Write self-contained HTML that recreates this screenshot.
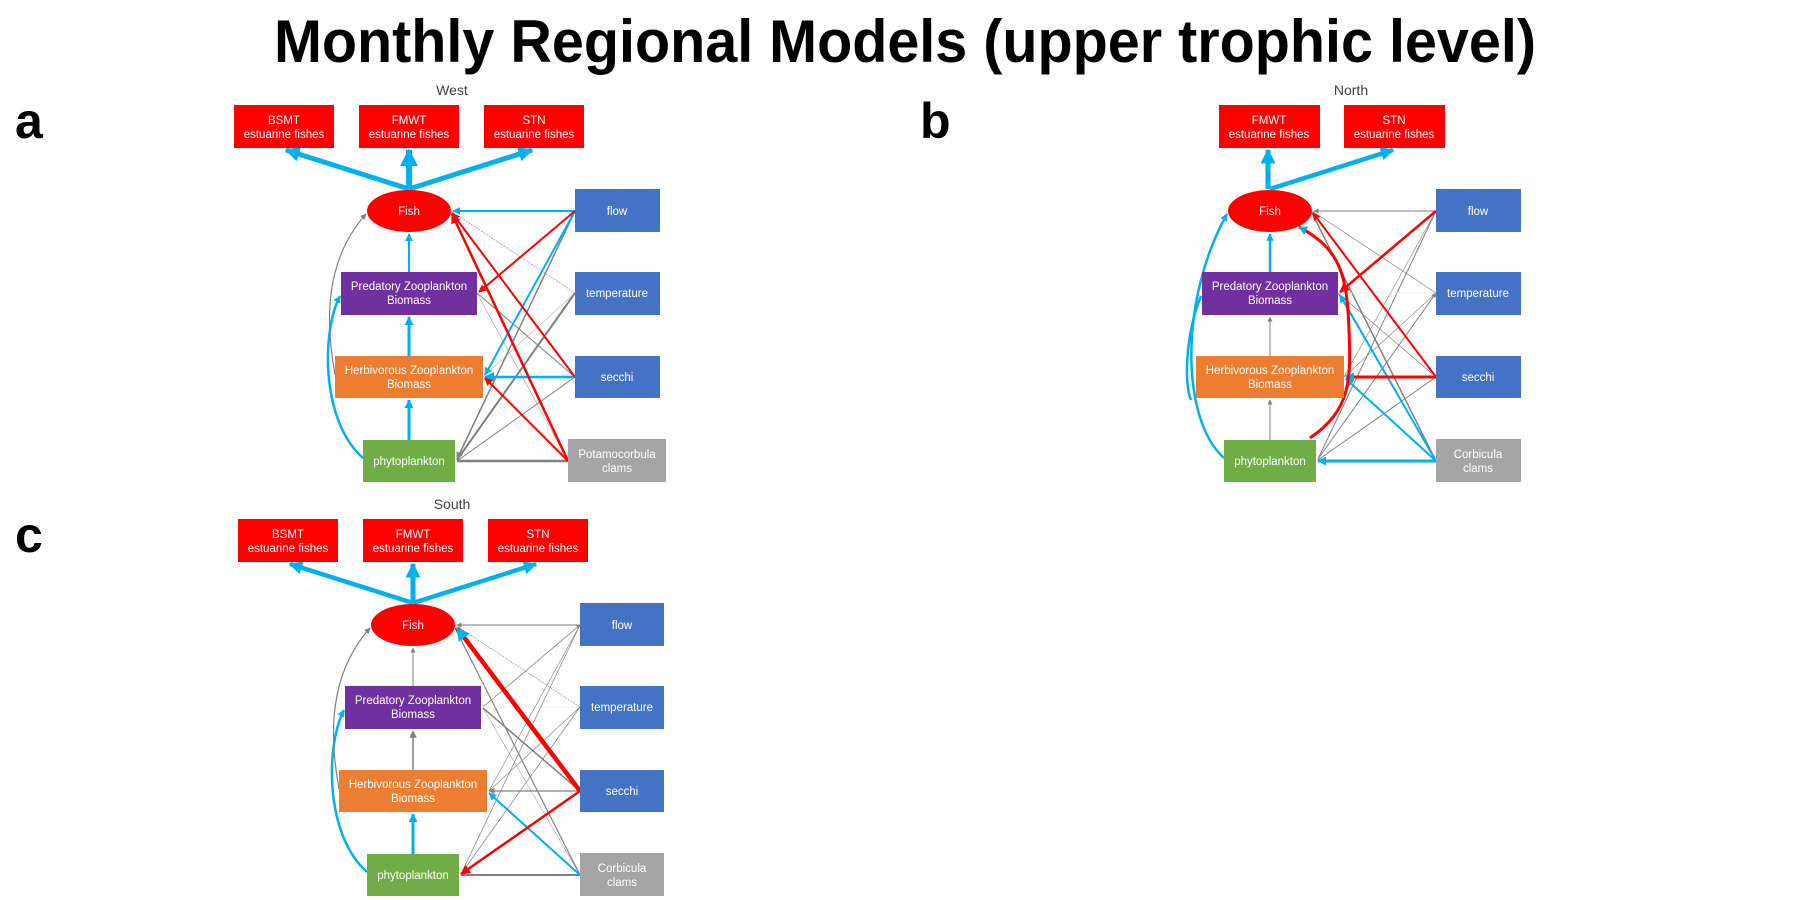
<!DOCTYPE html>
<html><head><meta charset="utf-8"><style>
html,body{margin:0;padding:0;background:#fff;width:1800px;height:900px;overflow:hidden}
svg{display:block}
.t{font-family:"Liberation Sans",sans-serif;font-size:11.5px;fill:#fff;text-anchor:middle}
</style></head><body>
<svg width="1800" height="900" viewBox="0 0 1800 900" xmlns="http://www.w3.org/2000/svg">
<defs>
<marker id="mb" viewBox="0 0 10 10" refX="9" refY="5" markerWidth="4" markerHeight="4" orient="auto" markerUnits="strokeWidth"><path d="M0,0L10,5L0,10z" fill="#00b0f0"/></marker>
<marker id="mr" viewBox="0 0 10 10" refX="9" refY="5" markerWidth="4" markerHeight="4" orient="auto" markerUnits="strokeWidth"><path d="M0,0L10,5L0,10z" fill="#ff0000"/></marker>
<marker id="mg" viewBox="0 0 10 10" refX="9" refY="5" markerWidth="5" markerHeight="5" orient="auto" markerUnits="strokeWidth"><path d="M0,0L10,5L0,10z" fill="#808080"/></marker>
<marker id="mB" viewBox="0 0 10 10" refX="9" refY="5" markerWidth="3" markerHeight="3" orient="auto" markerUnits="strokeWidth"><path d="M0,0L10,5L0,10z" fill="#00b0f0"/></marker>
</defs>
<text x="905" y="62" font-family="Liberation Sans,sans-serif" font-weight="bold" font-size="60" text-anchor="middle" textLength="1262" lengthAdjust="spacingAndGlyphs">Monthly Regional Models (upper trophic level)</text>
<text x="15" y="138" font-family="Liberation Sans,sans-serif" font-weight="bold" font-size="50">a</text>
<text x="920" y="138" font-family="Liberation Sans,sans-serif" font-weight="bold" font-size="50">b</text>
<text x="15" y="552" font-family="Liberation Sans,sans-serif" font-weight="bold" font-size="50">c</text>

<!-- Panel A -->
<g>
<text x="452" y="95" font-family="Liberation Sans,sans-serif" font-size="14" fill="#404040" text-anchor="middle">West</text>
<g fill="none">
<line x1="409" y1="189" x2="286" y2="150" stroke="#00b0f0" stroke-width="5" marker-end="url(#mB)"/>
<line x1="409" y1="189" x2="409" y2="150" stroke="#00b0f0" stroke-width="6" marker-end="url(#mB)"/>
<line x1="409" y1="189" x2="532" y2="150" stroke="#00b0f0" stroke-width="5" marker-end="url(#mB)"/>
<line x1="451" y1="211" x2="575" y2="293" stroke="#808080" stroke-width="0.6" stroke-dasharray="2,1"/>
<line x1="477" y1="293" x2="575" y2="377" stroke="#808080" stroke-width="1"/>
<line x1="477" y1="293" x2="568" y2="461" stroke="#808080" stroke-width="0.5"/>
<line x1="483" y1="377" x2="575" y2="293" stroke="#808080" stroke-width="0.5"/>
<line x1="575" y1="211" x2="457" y2="459" stroke="#808080" stroke-width="1.5" marker-end="url(#mg)"/>
<line x1="575" y1="293" x2="457" y2="460" stroke="#808080" stroke-width="2"/>
<line x1="575" y1="377" x2="457" y2="461" stroke="#808080" stroke-width="1"/>
<line x1="568" y1="461" x2="457" y2="461" stroke="#808080" stroke-width="2.5"/>
<line x1="575" y1="211" x2="453" y2="211" stroke="#00b0f0" stroke-width="2" marker-end="url(#mb)"/>
<line x1="575" y1="211" x2="485" y2="375" stroke="#00b0f0" stroke-width="2" marker-end="url(#mb)"/>
<line x1="575" y1="377" x2="485" y2="377" stroke="#00b0f0" stroke-width="2.5" marker-end="url(#mb)"/>
<line x1="409" y1="272" x2="409" y2="234" stroke="#00b0f0" stroke-width="2" marker-end="url(#mb)"/>
<line x1="409" y1="356" x2="409" y2="317" stroke="#00b0f0" stroke-width="3" marker-end="url(#mB)"/>
<line x1="409" y1="440" x2="409" y2="400" stroke="#00b0f0" stroke-width="3" marker-end="url(#mB)"/>
<path d="M363,458 C320,420 322,330 340,296" stroke="#00b0f0" stroke-width="2.5" marker-end="url(#mB)"/>
<path d="M335,375 C325,320 325,260 366,214" stroke="#808080" stroke-width="1.2" marker-end="url(#mg)"/>
<line x1="575" y1="211" x2="479" y2="292" stroke="#ff0000" stroke-width="2" marker-end="url(#mr)"/>
<line x1="575" y1="377" x2="452" y2="213" stroke="#ff0000" stroke-width="2" marker-end="url(#mr)"/>
<line x1="568" y1="461" x2="452" y2="214" stroke="#ff0000" stroke-width="2.5" marker-end="url(#mr)"/>
<line x1="568" y1="461" x2="485" y2="378" stroke="#ff0000" stroke-width="2" marker-end="url(#mr)"/>
</g>
<rect x="234" y="105" width="100" height="43" fill="#ff0000"/><text class="t" x="284" y="124">BSMT</text><text class="t" x="284" y="138">estuarine fishes</text>
<rect x="359" y="105" width="100" height="43" fill="#ff0000"/><text class="t" x="409" y="124">FMWT</text><text class="t" x="409" y="138">estuarine fishes</text>
<rect x="484" y="105" width="100" height="43" fill="#ff0000"/><text class="t" x="534" y="124">STN</text><text class="t" x="534" y="138">estuarine fishes</text>
<ellipse cx="409" cy="211" rx="42" ry="21" fill="#ff0000"/><text class="t" x="409" y="215">Fish</text>
<rect x="341" y="272" width="136" height="43" fill="#7030a0"/><text class="t" x="409" y="290">Predatory Zooplankton</text><text class="t" x="409" y="304">Biomass</text>
<rect x="335" y="356" width="148" height="42" fill="#ed7d31"/><text class="t" x="409" y="374">Herbivorous Zooplankton</text><text class="t" x="409" y="388">Biomass</text>
<rect x="363" y="440" width="92" height="42" fill="#70ad47"/><text class="t" x="409" y="465">phytoplankton</text>
<rect x="575" y="189" width="85" height="43" fill="#4472c4"/><text class="t" x="617" y="215">flow</text>
<rect x="575" y="272" width="85" height="43" fill="#4472c4"/><text class="t" x="617" y="297">temperature</text>
<rect x="575" y="356" width="85" height="42" fill="#4472c4"/><text class="t" x="617" y="381">secchi</text>
<rect x="568" y="439" width="98" height="43" fill="#a5a5a5"/><text class="t" x="617" y="458">Potamocorbula</text><text class="t" x="617" y="472">clams</text>
</g>

<!-- Panel B -->
<g transform="translate(861,0)">
<text x="490" y="95" font-family="Liberation Sans,sans-serif" font-size="14" fill="#404040" text-anchor="middle">North</text>
<g fill="none">
<line x1="407" y1="189" x2="407" y2="150" stroke="#00b0f0" stroke-width="5" marker-end="url(#mB)"/>
<line x1="409" y1="189" x2="532" y2="150" stroke="#00b0f0" stroke-width="4.5" marker-end="url(#mB)"/>
<line x1="575" y1="211" x2="453" y2="211" stroke="#808080" stroke-width="1" marker-end="url(#mg)"/>
<line x1="451" y1="211" x2="575" y2="293" stroke="#808080" stroke-width="0.7"/>
<line x1="451" y1="211" x2="575" y2="377" stroke="#808080" stroke-width="0.7"/>
<line x1="451" y1="213" x2="575" y2="461" stroke="#808080" stroke-width="1.5"/>
<line x1="477" y1="293" x2="575" y2="461" stroke="#808080" stroke-width="0.8"/>
<line x1="477" y1="293" x2="575" y2="377" stroke="#808080" stroke-width="0.7"/>
<line x1="483" y1="377" x2="575" y2="211" stroke="#808080" stroke-width="0.6"/>
<line x1="483" y1="377" x2="575" y2="293" stroke="#808080" stroke-width="0.6"/>
<line x1="457" y1="459" x2="575" y2="211" stroke="#808080" stroke-width="1"/>
<line x1="457" y1="459" x2="575" y2="293" stroke="#808080" stroke-width="1" marker-end="url(#mg)"/>
<line x1="457" y1="460" x2="575" y2="377" stroke="#808080" stroke-width="1"/>
<line x1="477" y1="293" x2="575" y2="293" stroke="#e0e0e0" stroke-width="0.6"/>
<line x1="409" y1="356" x2="409" y2="317" stroke="#808080" stroke-width="1" marker-end="url(#mg)"/>
<line x1="409" y1="440" x2="409" y2="400" stroke="#808080" stroke-width="1" marker-end="url(#mg)"/>
<line x1="409" y1="272" x2="409" y2="234" stroke="#00b0f0" stroke-width="2.5" marker-end="url(#mB)"/>
<line x1="575" y1="461" x2="457" y2="461" stroke="#00b0f0" stroke-width="3" marker-end="url(#mB)"/>
<line x1="575" y1="461" x2="485" y2="379" stroke="#00b0f0" stroke-width="2" marker-end="url(#mb)"/>
<line x1="575" y1="461" x2="479" y2="295" stroke="#00b0f0" stroke-width="2" marker-end="url(#mb)"/>
<path d="M363,458 C320,420 318,300 366,214" stroke="#00b0f0" stroke-width="2.5" marker-end="url(#mB)"/>
<path d="M340,296 C326,330 322,380 330,400" stroke="#00b0f0" stroke-width="2.5"/>
<line x1="575" y1="211" x2="479" y2="292" stroke="#ff0000" stroke-width="2.5" marker-end="url(#mr)"/>
<line x1="575" y1="377" x2="452" y2="213" stroke="#ff0000" stroke-width="2" marker-end="url(#mr)"/>
<line x1="575" y1="377" x2="485" y2="377" stroke="#ff0000" stroke-width="3" marker-end="url(#mB)"/>
<path d="M449,438 C490,410 490,380 488,330 C486,280 482,250 438,227" stroke="#ff0000" stroke-width="3" marker-end="url(#mB)"/>
</g>
<rect x="358" y="105" width="101" height="43" fill="#ff0000"/><text class="t" x="408" y="124">FMWT</text><text class="t" x="408" y="138">estuarine fishes</text>
<rect x="483" y="105" width="101" height="43" fill="#ff0000"/><text class="t" x="533" y="124">STN</text><text class="t" x="533" y="138">estuarine fishes</text>
<ellipse cx="409" cy="211" rx="42" ry="21" fill="#ff0000"/><text class="t" x="409" y="215">Fish</text>
<rect x="341" y="272" width="136" height="43" fill="#7030a0"/><text class="t" x="409" y="290">Predatory Zooplankton</text><text class="t" x="409" y="304">Biomass</text>
<rect x="335" y="356" width="148" height="42" fill="#ed7d31"/><text class="t" x="409" y="374">Herbivorous Zooplankton</text><text class="t" x="409" y="388">Biomass</text>
<rect x="363" y="440" width="92" height="42" fill="#70ad47"/><text class="t" x="409" y="465">phytoplankton</text>
<rect x="575" y="189" width="85" height="43" fill="#4472c4"/><text class="t" x="617" y="215">flow</text>
<rect x="575" y="272" width="85" height="43" fill="#4472c4"/><text class="t" x="617" y="297">temperature</text>
<rect x="575" y="356" width="85" height="42" fill="#4472c4"/><text class="t" x="617" y="381">secchi</text>
<rect x="575" y="439" width="85" height="43" fill="#a5a5a5"/><text class="t" x="617" y="458">Corbicula</text><text class="t" x="617" y="472">clams</text>
</g>

<!-- Panel C -->
<g transform="translate(4,414)">
<text x="448" y="95" font-family="Liberation Sans,sans-serif" font-size="14" fill="#404040" text-anchor="middle">South</text>
<g fill="none">
<line x1="409" y1="189" x2="286" y2="150" stroke="#00b0f0" stroke-width="4.5" marker-end="url(#mB)"/>
<line x1="409" y1="189" x2="409" y2="150" stroke="#00b0f0" stroke-width="5" marker-end="url(#mB)"/>
<line x1="409" y1="189" x2="532" y2="150" stroke="#00b0f0" stroke-width="4.5" marker-end="url(#mB)"/>
<line x1="576" y1="211" x2="453" y2="211" stroke="#808080" stroke-width="1" marker-end="url(#mg)"/>
<line x1="451" y1="211" x2="576" y2="293" stroke="#808080" stroke-width="0.6" stroke-dasharray="2,1"/>
<line x1="451" y1="214" x2="576" y2="461" stroke="#808080" stroke-width="1.2"/>
<line x1="479" y1="293" x2="576" y2="211" stroke="#808080" stroke-width="0.8" marker-end="url(#mg)"/>
<line x1="479" y1="294" x2="576" y2="377" stroke="#808080" stroke-width="1.5"/>
<line x1="479" y1="294" x2="576" y2="461" stroke="#808080" stroke-width="0.5"/>
<line x1="479" y1="293" x2="576" y2="293" stroke="#e0e0e0" stroke-width="0.6"/>
<line x1="576" y1="377" x2="485" y2="377" stroke="#808080" stroke-width="1.2" marker-end="url(#mg)"/>
<line x1="485" y1="377" x2="576" y2="211" stroke="#808080" stroke-width="0.6"/>
<line x1="485" y1="377" x2="576" y2="293" stroke="#808080" stroke-width="0.6"/>
<line x1="457" y1="460" x2="576" y2="211" stroke="#808080" stroke-width="0.7"/>
<line x1="457" y1="460" x2="576" y2="293" stroke="#808080" stroke-width="0.7"/>
<line x1="576" y1="461" x2="457" y2="461" stroke="#808080" stroke-width="2"/>
<line x1="409" y1="272" x2="409" y2="234" stroke="#808080" stroke-width="1" marker-end="url(#mg)"/>
<line x1="409" y1="356" x2="409" y2="317" stroke="#808080" stroke-width="1.5" marker-end="url(#mg)"/>
<line x1="409" y1="440" x2="409" y2="400" stroke="#00b0f0" stroke-width="3" marker-end="url(#mB)"/>
<line x1="576" y1="461" x2="485" y2="379" stroke="#00b0f0" stroke-width="2" marker-end="url(#mb)"/>
<path d="M363,458 C320,420 322,330 340,296" stroke="#00b0f0" stroke-width="2.5" marker-end="url(#mB)"/>
<path d="M335,375 C325,320 325,260 366,214" stroke="#808080" stroke-width="1.2" marker-end="url(#mg)"/>
<line x1="576" y1="377" x2="453" y2="214" stroke="#ff0000" stroke-width="4.5" marker-end="url(#mB)"/>
<line x1="576" y1="377" x2="457" y2="460" stroke="#ff0000" stroke-width="2.5" marker-end="url(#mr)"/>
</g>
<rect x="234" y="105" width="100" height="43" fill="#ff0000"/><text class="t" x="284" y="124">BSMT</text><text class="t" x="284" y="138">estuarine fishes</text>
<rect x="359" y="105" width="100" height="43" fill="#ff0000"/><text class="t" x="409" y="124">FMWT</text><text class="t" x="409" y="138">estuarine fishes</text>
<rect x="484" y="105" width="100" height="43" fill="#ff0000"/><text class="t" x="534" y="124">STN</text><text class="t" x="534" y="138">estuarine fishes</text>
<ellipse cx="409" cy="211" rx="42" ry="21" fill="#ff0000"/><text class="t" x="409" y="215">Fish</text>
<rect x="341" y="272" width="136" height="43" fill="#7030a0"/><text class="t" x="409" y="290">Predatory Zooplankton</text><text class="t" x="409" y="304">Biomass</text>
<rect x="335" y="356" width="148" height="42" fill="#ed7d31"/><text class="t" x="409" y="374">Herbivorous Zooplankton</text><text class="t" x="409" y="388">Biomass</text>
<rect x="363" y="440" width="92" height="42" fill="#70ad47"/><text class="t" x="409" y="465">phytoplankton</text>
<rect x="576" y="189" width="84" height="43" fill="#4472c4"/><text class="t" x="618" y="215">flow</text>
<rect x="576" y="272" width="84" height="43" fill="#4472c4"/><text class="t" x="618" y="297">temperature</text>
<rect x="576" y="356" width="84" height="42" fill="#4472c4"/><text class="t" x="618" y="381">secchi</text>
<rect x="576" y="439" width="84" height="43" fill="#a5a5a5"/><text class="t" x="618" y="458">Corbicula</text><text class="t" x="618" y="472">clams</text>
</g>
</svg>
</body></html>
